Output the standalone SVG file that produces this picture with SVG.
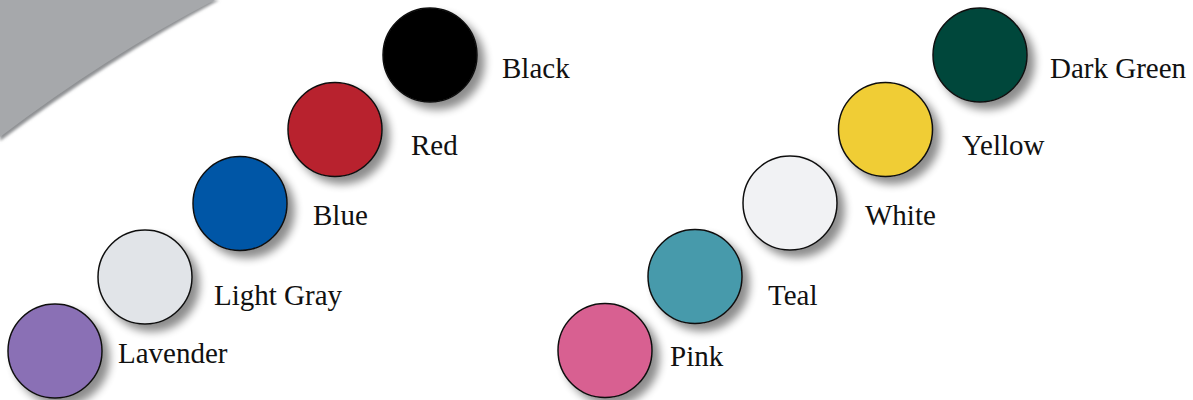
<svg xmlns="http://www.w3.org/2000/svg" width="1193" height="400" viewBox="0 0 1193 400">
  <defs>
    <filter id="shadow" x="-30%" y="-30%" width="170%" height="170%">
      <feGaussianBlur in="SourceAlpha" stdDeviation="4"/>
      <feOffset dx="7" dy="7" result="b"/>
      <feComponentTransfer><feFuncA type="linear" slope="0.45"/></feComponentTransfer>
      <feMerge><feMergeNode/><feMergeNode in="SourceGraphic"/></feMerge>
    </filter>
    <filter id="edge" x="-20%" y="-20%" width="140%" height="140%">
      <feGaussianBlur stdDeviation="1.5"/>
    </filter>
  </defs>
  <style>
    .dot { stroke: #111; stroke-width: 1.5; filter: url(#shadow); }
    .lbl { font-family: "Liberation Serif", "Times New Roman", serif; font-size: 29px; fill: #111; }
  </style>
  <rect width="1193" height="400" fill="#ffffff"/>
  <g id="background-swoosh">
    <path d="M0,0 L219,0 Q108,60 0,141 Z" fill="#8e9093" filter="url(#edge)"/>
    <path d="M0,0 L215,0 Q105,57 0,137 Z" fill="#a6a8ab"/>
  </g>
  <g id="connectors"></g>
  <g id="black"><circle class="dot" cx="430" cy="55" r="47" fill="#000000"/><text class="lbl" x="502" y="78">Black</text></g>
  <g id="red"><circle class="dot" cx="335" cy="129.5" r="47" fill="#b8232f"/><text class="lbl" x="411" y="155">Red</text></g>
  <g id="blue"><circle class="dot" cx="240" cy="203.5" r="47" fill="#0156a6"/><text class="lbl" x="313" y="225">Blue</text></g>
  <g id="light-gray"><circle class="dot" cx="145" cy="277" r="47" fill="#e1e4e8"/><text class="lbl" x="214" y="305">Light Gray</text></g>
  <g id="lavender"><circle class="dot" cx="55" cy="351" r="47" fill="#8a70b5"/><text class="lbl" x="118" y="363">Lavender</text></g>
  <g id="dark-green"><circle class="dot" cx="980" cy="55" r="47" fill="#02463b"/><text class="lbl" x="1050" y="78">Dark Green</text></g>
  <g id="yellow"><circle class="dot" cx="885.5" cy="129.5" r="47" fill="#f0cd34"/><text class="lbl" x="962" y="155">Yellow</text></g>
  <g id="white"><circle class="dot" cx="790" cy="203" r="47" fill="#f1f2f4"/><text class="lbl" x="865" y="225">White</text></g>
  <g id="teal"><circle class="dot" cx="695" cy="276.5" r="47" fill="#479aab"/><text class="lbl" x="768" y="305">Teal</text></g>
  <g id="pink"><circle class="dot" cx="605" cy="350.5" r="47" fill="#d86191"/><text class="lbl" x="670" y="366">Pink</text></g>
</svg>
